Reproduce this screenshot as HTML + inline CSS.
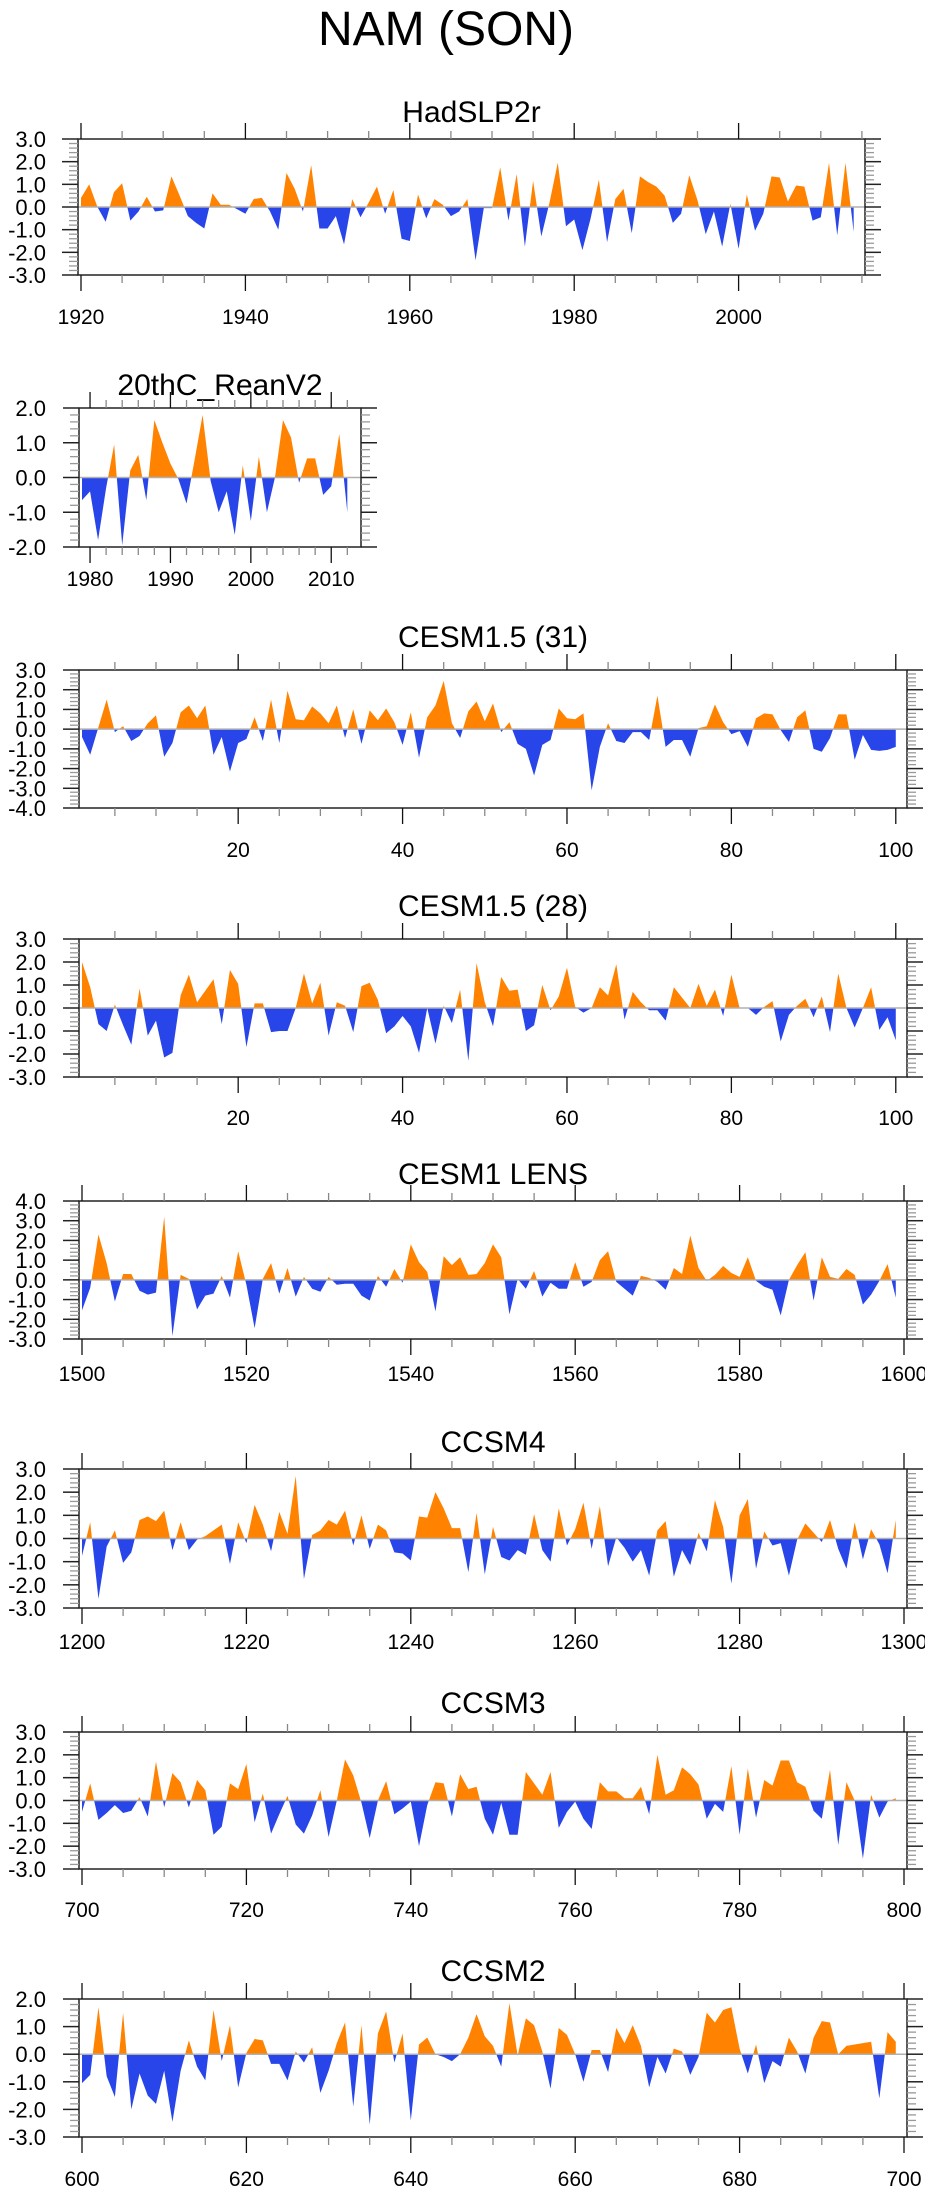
<!DOCTYPE html>
<html><head><meta charset="utf-8">
<style>
html,body{margin:0;padding:0;background:#fff;}
svg{display:block;font-family:"Liberation Sans",Arial,sans-serif;}
</style></head>
<body>
<svg id="fig" width="925" height="2191" viewBox="0 0 925 2191" xmlns="http://www.w3.org/2000/svg">
<rect width="925" height="2191" fill="#fff"/>
<text x="446" y="45" font-size="48" text-anchor="middle">NAM (SON)</text>
</svg>
<script>
const hadTitle = "HadSLP2r";
const hadStart = 1920;
const hadValues = [0.4,1.0,0.0,-0.65,0.65,1.05,-0.6,-0.2,0.45,-0.2,-0.15,1.35,0.5,-0.4,-0.7,-0.95,0.6,0.1,0.1,-0.1,-0.3,0.35,0.4,-0.2,-1.0,1.5,0.8,-0.2,1.85,-0.95,-0.95,-0.4,-1.65,0.35,-0.45,0.2,0.9,-0.3,0.75,-1.4,-1.5,0.55,-0.5,0.35,0.1,-0.4,-0.2,0.35,-2.35,-0.05,-0.05,1.75,-0.6,1.45,-1.75,1.15,-1.3,0.2,1.95,-0.85,-0.55,-1.9,-0.5,1.2,-1.55,0.35,0.8,-1.15,1.35,1.1,0.9,0.5,-0.7,-0.3,1.4,0.3,-1.2,-0.2,-1.75,0.15,-1.85,0.55,-1.05,-0.3,1.35,1.3,0.25,0.95,0.9,-0.6,-0.45,1.95,-1.25,1.95,-1.1];

const reanTitle = "20thC_ReanV2";
const reanStart = 1979;
const reanValues = [-0.65,-0.4,-1.8,-0.3,0.95,-1.95,0.2,0.65,-0.65,1.65,1.0,0.4,-0.05,-0.75,0.5,1.8,-0.1,-1.0,-0.4,-1.65,0.35,-1.25,0.6,-1.0,0.0,1.65,1.15,-0.15,0.55,0.55,-0.5,-0.25,1.25,-1.0];

const c31Title = "CESM1.5 (31)";
const c31Start = 1;
const c31Values = [-0.4,-1.3,0.1,1.5,-0.15,0.15,-0.6,-0.35,0.3,0.7,-1.4,-0.7,0.85,1.2,0.55,1.2,-1.3,-0.4,-2.15,-0.7,-0.5,0.6,-0.6,1.5,-0.7,1.95,0.5,0.45,1.15,0.8,0.3,1.2,-0.45,1.0,-0.75,0.95,0.45,1.05,0.35,-0.8,0.85,-1.45,0.6,1.2,2.45,0.3,-0.45,0.9,1.4,0.4,1.3,-0.15,0.35,-0.75,-1.0,-2.35,-0.8,-0.55,1.05,0.55,0.5,0.8,-3.1,-0.9,0.3,-0.6,-0.7,-0.15,-0.15,-0.55,1.7,-0.9,-0.55,-0.55,-1.4,0.05,0.15,1.25,0.35,-0.25,-0.1,-0.9,0.55,0.8,0.75,-0.05,-0.65,0.6,0.95,-1.0,-1.15,-0.45,0.75,0.75,-1.55,-0.3,-1.05,-1.1,-1.05,-0.9];

const c28Title = "CESM1.5 (28)";
const c28Start = 1;
const c28Values = [2.0,0.9,-0.7,-1.0,0.15,-0.75,-1.6,0.85,-1.2,-0.55,-2.15,-1.95,0.55,1.45,0.25,0.75,1.25,-0.7,1.65,1.05,-1.7,0.2,0.2,-1.05,-1.0,-1.0,0.0,1.5,0.2,1.1,-1.2,0.25,0.1,-1.05,0.95,1.1,0.35,-1.1,-0.8,-0.35,-0.8,-1.95,0.0,-1.55,0.1,-0.65,0.8,-2.3,1.95,0.25,-0.8,1.35,0.75,0.8,-1.0,-0.75,1.0,-0.1,0.5,1.75,0.05,-0.2,0.0,0.9,0.55,1.9,-0.5,0.7,0.25,-0.1,-0.1,-0.55,0.9,0.45,0.0,1.05,0.1,0.8,-0.35,1.45,0.0,0.0,-0.3,0.05,0.3,-1.45,-0.3,0.1,0.4,-0.4,0.5,-1.05,1.5,0.0,-0.85,0.0,0.9,-0.95,-0.4,-1.4];

const lensTitle = "CESM1 LENS";
const lensStart = 1500;
const lensValues = [-1.55,-0.4,2.3,0.85,-1.1,0.3,0.3,-0.55,-0.75,-0.65,3.2,-2.85,0.25,0.05,-1.5,-0.8,-0.7,0.2,-0.9,1.45,-0.25,-2.45,0.05,0.85,-0.7,0.6,-0.85,0.15,-0.45,-0.6,0.15,-0.25,-0.2,-0.2,-0.8,-1.05,0.2,-0.35,0.55,-0.15,1.8,0.9,0.4,-1.6,1.2,0.75,1.15,0.25,0.3,0.85,1.8,1.15,-1.75,0.05,-0.45,0.45,-0.85,-0.15,-0.45,-0.45,0.9,-0.35,-0.1,1.0,1.45,-0.1,-0.45,-0.8,0.2,0.1,-0.1,-0.5,0.6,0.3,2.25,0.6,-0.05,0.25,0.7,0.35,0.15,1.15,-0.05,-0.35,-0.5,-1.8,0.0,0.75,1.4,-1.05,1.15,0.15,0.05,0.55,0.25,-1.25,-0.75,-0.05,0.8,-0.9];

const c4Title = "CCSM4";
const c4Start = 1200;
const c4Values = [-0.75,0.7,-2.6,-0.35,0.35,-1.05,-0.6,0.8,0.95,0.75,1.2,-0.5,0.7,-0.5,-0.05,0.1,0.35,0.6,-1.1,0.7,-0.2,1.45,0.6,-0.55,1.15,0.2,2.7,-1.75,0.15,0.35,0.8,0.6,1.2,-0.3,1.0,-0.45,0.6,0.35,-0.6,-0.65,-0.95,0.95,0.9,2.0,1.3,0.45,0.45,-1.45,1.1,-1.55,0.5,-0.8,-0.95,-0.5,-0.7,1.05,-0.5,-1.0,1.3,-0.3,0.4,1.55,-0.45,1.4,-1.2,0.05,-0.4,-1.0,-0.5,-1.6,0.35,0.75,-1.65,-0.5,-1.15,0.25,-0.55,1.65,0.5,-1.95,1.0,1.7,-1.3,0.3,-0.3,-0.2,-1.6,-0.05,0.65,0.25,-0.15,0.8,-0.45,-1.3,0.7,-0.9,0.4,-0.25,-1.5,0.8];

const c3Title = "CCSM3";
const c3Start = 700;
const c3Values = [-0.5,0.75,-0.85,-0.55,-0.2,-0.55,-0.45,0.15,-0.7,1.7,-0.3,1.2,0.8,-0.3,0.9,0.45,-1.5,-1.15,0.75,0.5,1.6,-0.95,0.3,-1.45,-0.6,0.2,-1.05,-1.45,-0.65,0.45,-1.6,0.0,1.8,1.1,-0.1,-1.65,0.0,0.85,-0.6,-0.35,-0.05,-2.0,-0.2,0.8,0.75,-0.7,1.15,0.5,0.6,-0.8,-1.5,-0.1,-1.5,-1.5,1.25,0.75,0.25,1.25,-1.2,-0.5,-0.05,-0.8,-1.25,0.8,0.4,0.4,0.1,0.1,0.6,-0.6,2.0,0.25,0.45,1.45,1.15,0.7,-0.8,-0.15,-0.5,1.5,-1.5,1.4,-0.75,0.9,0.65,1.75,1.75,0.8,0.6,-0.45,-0.8,1.35,-1.95,0.8,0.0,-2.55,0.25,-0.75,-0.05,0.1];

const c2Title = "CCSM2";
const c2Start = 600;
const c2Values = [-1.05,-0.75,1.7,-0.8,-1.55,1.5,-2.0,-0.7,-1.5,-1.8,-0.6,-2.45,-0.6,0.5,-0.45,-0.95,1.6,-0.25,1.05,-1.2,0.05,0.55,0.5,-0.35,-0.35,-0.95,0.1,-0.3,0.25,-1.4,-0.6,0.4,1.15,-1.9,1.05,-2.55,0.75,1.55,-0.3,0.75,-2.4,0.35,0.6,0.0,-0.1,-0.25,0.0,0.6,1.45,0.65,0.3,-0.45,1.85,-0.05,1.3,1.05,0.1,-1.25,0.95,0.7,0.0,-1.0,0.15,0.15,-0.65,0.95,0.4,1.05,0.3,-1.2,-0.1,-0.7,0.2,0.1,-0.75,-0.1,1.5,1.15,1.6,1.7,0.2,-0.7,0.35,-1.05,-0.25,-0.45,0.6,0.1,-0.7,0.6,1.2,1.15,0.0,0.3,0.35,0.4,0.45,-1.6,0.8,0.45];

const NS = "http://www.w3.org/2000/svg";
const svg = document.getElementById("fig");
function mk(tag, attrs, parent){
  const e = document.createElementNS(NS, tag);
  for (const k in attrs) e.setAttribute(k, attrs[k]);
  (parent||svg).appendChild(e);
  return e;
}

function drawPanel(cfg){
  const g = mk("g", {});
  
  
  const L = cfg.L, R = cfg.R, T = cfg.T, B = cfg.B;
  const xmin = cfg.start - 3/cfg.ppu;
  const xmax = xmin + (R - L)/cfg.ppu;
  const xs = v => L + (v - xmin)/(xmax - xmin)*(R - L);
  const ys = v => B - (v - cfg.ymin)/(cfg.ymax - cfg.ymin)*(B - T);

  const t = mk("text", {x:(L+R)/2, y:cfg.titleY, "font-size":30, "text-anchor":"middle"}, g);
  t.textContent = cfg.title;
  
  

  const pts = [];
  const vals = cfg.values;
  for (let i = 0; i < vals.length; i++){
    const x = cfg.start + i, v = vals[i];
    if (i > 0){
      const pv = vals[i-1];
      if ((pv > 0 && v < 0) || (pv < 0 && v > 0)){
        const f = pv/(pv - v);
        pts.push([x - 1 + f, 0]);
      }
    }
    pts.push([x, v]);
  }
  function poly(sign){
    let d = "M" + xs(pts[0][0]) + "," + ys(0);
    for (const p of pts){
      const v = sign > 0 ? Math.max(p[1],0) : Math.min(p[1],0);
      d += " L" + xs(p[0]).toFixed(2) + "," + ys(v).toFixed(2);
    }
    d += " L" + xs(pts[pts.length-1][0]) + "," + ys(0) + " Z";
    return d;
  }
  const pos = mk("path", {d:poly(1), fill:"#ff8200", stroke:"none"}, g);
  
  
  const neg = mk("path", {d:poly(-1), fill:"#2845ea", stroke:"none"}, g);
  
  
  const z = mk("line", {x1:L, x2:R, y1:ys(0), y2:ys(0), stroke:"#b0b0b0", "stroke-width":1.5}, g);
  
  

  const box = mk("rect", {x:L, y:T, width:R-L, height:B-T, fill:"none", stroke:"#222", "stroke-width":1.5}, g);
  
  

  for (let k = Math.round(cfg.ymin*5); k <= Math.round(cfg.ymax*5); k++){
    const v = k/5, y = ys(v);
    if (k % 5 === 0){
      mk("line", {x1:L-16, x2:L, y1:y, y2:y, stroke:"#222", "stroke-width":1.5}, g);
      mk("line", {x1:R, x2:R+16, y1:y, y2:y, stroke:"#222", "stroke-width":1.5}, g);
      const lb = mk("text", {x:46, y:y+8, "font-size":22, "text-anchor":"end"}, g);
      lb.textContent = v.toFixed(1);
      
      
    } else {
      mk("line", {x1:L-9, x2:L, y1:y, y2:y, stroke:"#999", "stroke-width":1.3}, g);
      mk("line", {x1:R, x2:R+9, y1:y, y2:y, stroke:"#999", "stroke-width":1.3}, g);
    }
  }
  const first = Math.ceil(xmin/cfg.minor)*cfg.minor;
  for (let v = first; v <= xmax; v += cfg.minor){
    const x = xs(v);
    const major = v % cfg.major === 0;
    const len = major ? 16 : 8;
    const col = major ? "#111" : "#888";
    mk("line", {x1:x, x2:x, y1:T-len, y2:T, stroke:col, "stroke-width":1.3}, g);
    mk("line", {x1:x, x2:x, y1:B, y2:B+len, stroke:col, "stroke-width":1.3}, g);
    if (major){
      const lb = mk("text", {x:x, y:cfg.labelY, "font-size":21, "text-anchor":"middle"}, g);
      lb.textContent = String(v);
      
      
    }
  }
}

const panels = [
  {key:"hadslp2r", title:hadTitle, start:hadStart, values:hadValues, L:78, R:865, T:139, B:275, ymin:-3, ymax:3, ppu:8.22, major:20, minor:5, titleY:122, labelY:324},
  {key:"20thc-reanv2", title:reanTitle, start:reanStart, values:reanValues, L:79, R:361, T:408, B:547, ymin:-2, ymax:2, ppu:8.04, major:10, minor:2, titleY:395, labelY:586},
  {key:"cesm15-31", title:c31Title, start:c31Start, values:c31Values, L:79, R:907, T:670, B:808, ymin:-4, ymax:3, ppu:8.22, major:20, minor:5, titleY:647, labelY:857},
  {key:"cesm15-28", title:c28Title, start:c28Start, values:c28Values, L:79, R:907, T:939, B:1077, ymin:-3, ymax:3, ppu:8.22, major:20, minor:5, titleY:916, labelY:1125},
  {key:"cesm1-lens", title:lensTitle, start:lensStart, values:lensValues, L:79, R:907, T:1201, B:1339, ymin:-3, ymax:4, ppu:8.22, major:20, minor:5, titleY:1184, labelY:1381},
  {key:"ccsm4", title:c4Title, start:c4Start, values:c4Values, L:79, R:907, T:1469, B:1608, ymin:-3, ymax:3, ppu:8.22, major:20, minor:5, titleY:1452, labelY:1649},
  {key:"ccsm3", title:c3Title, start:c3Start, values:c3Values, L:79, R:907, T:1732, B:1869, ymin:-3, ymax:3, ppu:8.22, major:20, minor:5, titleY:1713, labelY:1917},
  {key:"ccsm2", title:c2Title, start:c2Start, values:c2Values, L:79, R:907, T:1999, B:2137, ymin:-3, ymax:2, ppu:8.22, major:20, minor:5, titleY:1981, labelY:2186}
];
panels.forEach(drawPanel);
</script>
</body></html>
